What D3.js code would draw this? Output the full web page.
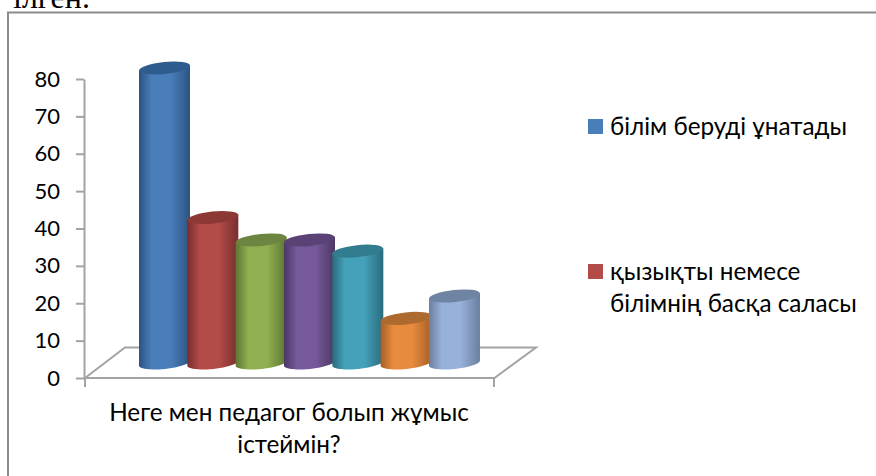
<!DOCTYPE html>
<html>
<head>
<meta charset="utf-8">
<script src="https://cdn.jsdelivr.net/npm/d3@7"></script>
<style>
  html, body { margin: 0; padding: 0; background: #fff; overflow: hidden; }
  text { font-family: Lato, "Noto Sans", sans-serif; fill: #000; }
</style>
</head>
<body>
<svg id="chart" width="876" height="476"></svg>
<script>
// values
const seriesKeys = ["s1", "s2", "s3", "s4", "s5", "s6", "s7"];
const seriesValues = [80, 40, 34, 34, 31, 13, 19];
const sideColors = ["#4a7ebb", "#b34b48", "#8fb050", "#76599a", "#45a1ba", "#e88b3f", "#98b1da"];
const edgeColors = ["#2c5382", "#772f2d", "#5c7632", "#4b3763", "#2a6b7d", "#a65f26", "#6a7f9f"];
const topColors = ["#2f5c8f", "#8c3835", "#6c8540", "#5a4374", "#327c8f", "#ac6a2e", "#6f83a3"];
const yTicks = [0, 10, 20, 30, 40, 50, 60, 70, 80];
const legendLabels = [["білім беруді ұнатады"], ["қызықты немесе", "білімнің басқа саласы"]];
const categoryLines = ["Неге мен педагог болып жұмыс", "істеймін?"];

const svg = d3.select("#chart");
const defs = svg.append("defs");

// page text cut off above the chart
svg.append("text")
  .attr("x", 13).attr("y", 8)
  .style("font-family", "'Liberation Serif', serif")
  .style("font-size", "32px")
  .text("ілген.");

// frame
svg.append("rect")
  .attr("x", 8).attr("y", 12.5)
  .attr("width", 900).attr("height", 500)
  .attr("fill", "none")
  .attr("stroke", "#8c8c8c")
  .attr("stroke-width", 2);

// --- Scales ---
const y = d3.scaleLinear().domain([0, 80]).range([378, 79]);
const x = d3.scaleBand().domain(seriesKeys).range([139, 477.3]).paddingInner(0).paddingOuter(0);
const barW = 51;
const depthShift = 11;  // bars stand further back on the floor than the axis
const footY = 363;      // centre of the cylinder foot
const rx = barW / 2, ry = 6, tilt = -6;

// floor
const floorColor = "#a3a3a3";
const floor = d3.line();
svg.append("path")
  .attr("d", floor([[85, y(0)], [125, 347.5], [536, 347.5], [494.5, y(0)], [85, y(0)]]))
  .attr("fill", "none")
  .attr("stroke", floorColor)
  .attr("stroke-width", 2);
svg.append("line")
  .attr("x1", 494).attr("x2", 494)
  .attr("y1", y(0)).attr("y2", 387)
  .attr("stroke", floorColor)
  .attr("stroke-width", 2);
svg.append("line")
  .attr("x1", 85).attr("x2", 85)
  .attr("y1", y(0)).attr("y2", 387)
  .attr("stroke", floorColor)
  .attr("stroke-width", 2);

// y axis
const yAxisG = svg.append("g")
  .attr("transform", "translate(84,0)")
  .call(d3.axisLeft(y).tickValues(yTicks).tickSize(8).tickPadding(16).tickSizeOuter(0));
yAxisG.selectAll("path,line").attr("stroke", floorColor).attr("stroke-width", 2);
yAxisG.selectAll("text")
  .style("font-size", "22px")
  .attr("fill", "#000");

// foot of a cylinder: lower half of a tilted ellipse, left to right
const tiltRad = tilt * Math.PI / 180;
function footPoints(cx, cy) {
  return d3.range(0, 25).map(k => {
    const a = Math.PI - (k / 24) * Math.PI;
    const ex = rx / Math.cos(tiltRad) * Math.cos(a);
    const ey = ry * Math.sin(a);
    return [cx + ex * Math.cos(tiltRad) - ey * Math.sin(tiltRad),
            cy + ex * Math.sin(tiltRad) + ey * Math.cos(tiltRad)];
  });
}

// cylinders
seriesValues.forEach((v, i) => {
  const grad = defs.append("linearGradient").attr("id", "cyl" + i);
  grad.append("stop").attr("offset", "0").attr("stop-color", edgeColors[i]);
  grad.append("stop").attr("offset", "0.25").attr("stop-color", sideColors[i]);
  grad.append("stop").attr("offset", "0.62").attr("stop-color", sideColors[i]);
  grad.append("stop").attr("offset", "1").attr("stop-color", edgeColors[i]);

  const x0 = x(seriesKeys[i]);
  const cx = x0 + barW / 2;
  const topY = y(v) - depthShift;
  const foot = footPoints(cx, footY);
  const lift = footY - topY;
  const outline = [[foot[0][0], foot[0][1] - lift], ...foot, [foot[24][0], foot[24][1] - lift]];

  svg.append("path").attr("d", floor(outline) + "Z").attr("fill", `url(#cyl${i})`);

  svg.append("ellipse")
    .attr("cx", cx).attr("cy", topY)
    .attr("rx", rx / Math.cos(tiltRad)).attr("ry", ry)
    .attr("transform", `rotate(${tilt} ${cx} ${topY})`)
    .attr("fill", topColors[i]);
});

// category label
svg.selectAll("text.cat")
  .data(categoryLines)
  .join("text")
  .attr("class", "cat")
  .attr("x", 289)
  .attr("y", (d, i) => 421 + i * 32)
  .attr("text-anchor", "middle")
  .style("font-size", "24.3px")
  .text(d => d);

// legend
const legendSwatchY = [119, 264];
legendLabels.forEach((lines, i) => {
  svg.append("rect")
    .attr("x", 588).attr("y", legendSwatchY[i])
    .attr("width", 15).attr("height", 15)
    .attr("fill", sideColors[i]);
  lines.forEach((t, j) => {
    svg.append("text")
      .attr("x", 610)
      .attr("y", legendSwatchY[i] + 16 + j * 32)
      .style("font-size", "24.3px")
      .text(t);
  });
});
</script>
</body>
</html>
